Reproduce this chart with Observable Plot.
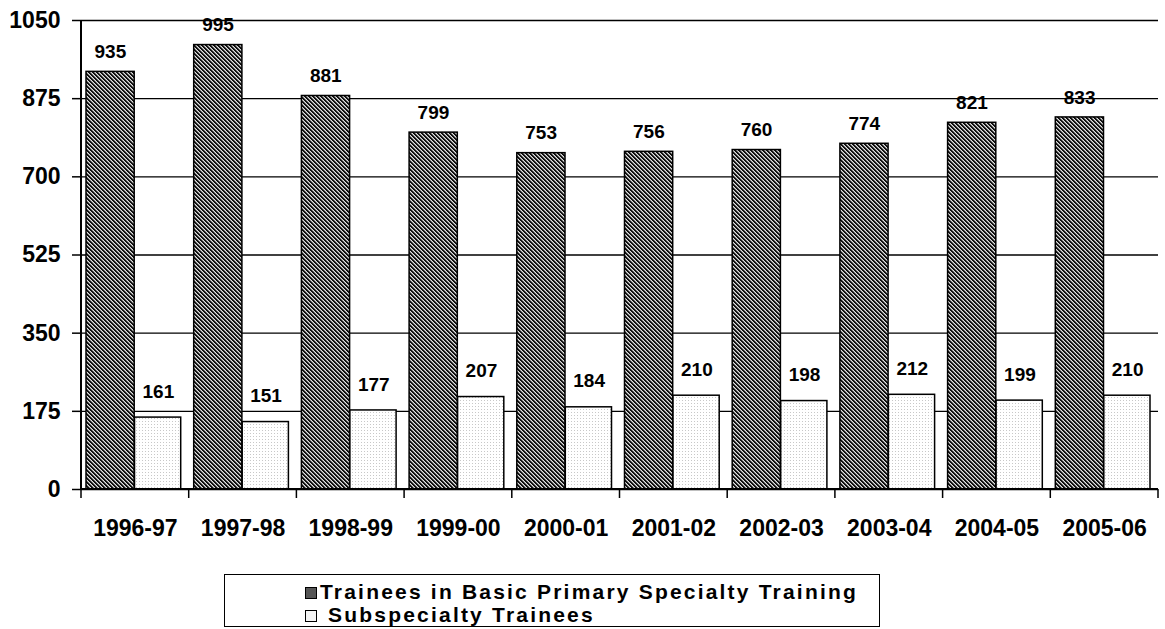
<!DOCTYPE html>
<html>
<head>
<meta charset="utf-8">
<script src="https://cdn.jsdelivr.net/npm/d3@7"></script>
<script src="https://cdn.jsdelivr.net/npm/@observablehq/plot@0.6"></script>
<style>
  body { margin: 0; background: #fff; font-family: "Liberation Sans", Arial, sans-serif; }
  #chart { position: absolute; left: 0; top: 0; }
  #legend {
    position: absolute; left: 224px; top: 574px; width: 656px; height: 53px;
    border: 1.5px solid #000; box-sizing: border-box;
    font-weight: bold; font-size: 21px; letter-spacing: 2.2px; line-height: 23px;
    padding: 5px 0 0 80px; color: #000; white-space: nowrap;
  }
  .sw { display: inline-block; width: 10px; height: 10px; border: 1px solid #000; margin-right: 3px; vertical-align: 0px; }
</style>
</head>
<body>
<div id="chart"></div>
<div id="legend">
  <div><span class="sw" id="sw1"></span>Trainees in Basic Primary Specialty Training</div>
  <div><span class="sw" id="sw2"></span>&nbsp;Subspecialty Trainees</div>
</div>
<script>
const years = ["1996-97","1997-98","1998-99","1999-00","2000-01","2001-02","2002-03","2003-04","2004-05","2005-06"];
const basic = [935, 995, 881, 799, 753, 756, 760, 774, 821, 833];
const subspecialty = [161, 151, 177, 207, 184, 210, 198, 212, 199, 210];
const yTicks = [0, 175, 350, 525, 700, 875, 1050];
const seriesNames = ["Trainees in Basic Primary Specialty Training", "Subspecialty Trainees"];

const rows = years.map((y, i) => ({year: y, basic: basic[i], sub: subspecialty[i]}));

const plot = Plot.plot({
  width: 1165,
  height: 560,
  marginLeft: 81,
  marginRight: 7,
  marginTop: 20,
  marginBottom: 71,
  style: {fontFamily: "'Liberation Sans', Arial, sans-serif", fontWeight: "bold", background: "#fff", overflow: "visible"},
  x: {domain: years, padding: 0, round: false, label: null},
  y: {domain: [0, 1050], label: null},
  marks: [
    Plot.ruleY(yTicks, {stroke: "#000", strokeWidth: 1.3}),
    Plot.barY(rows, {x: "year", y: "basic", fill: "url(#darkHatch)", stroke: "#000", strokeWidth: 1.5, insetLeft: 5, insetRight: 54.5}),
    Plot.barY(rows, {x: "year", y: "sub", fill: "url(#lightDots)", stroke: "#000", strokeWidth: 1.5, insetLeft: 53.5, insetRight: 8}),
    Plot.text(rows, {x: "year", y: "basic", text: d => String(d.basic), dx: -25, dy: -20, fontSize: 19, fontWeight: "bold", fill: "#000"}),
    Plot.text(rows, {x: "year", y: "sub", text: d => String(d.sub), dx: 23, dy: -26, fontSize: 19, fontWeight: "bold", fill: "#000"}),
    Plot.axisY({ticks: yTicks, tickSize: 9, tickPadding: 12, fontSize: 23, fontWeight: "bold", stroke: "#000", strokeWidth: 1.5, tickFormat: d => String(d)}),
    Plot.axisX({tickSize: 0, tickPadding: 30, fontSize: 23, fontWeight: "bold"})
  ]
});

// patterns
const svg = d3.select(plot.tagName === "svg" ? plot : plot.querySelector("svg"));
const defs = svg.insert("defs", ":first-child");
const dark = defs.append("pattern").attr("id", "darkHatch").attr("patternUnits", "userSpaceOnUse").attr("width", 4).attr("height", 4);
dark.append("rect").attr("width", 4).attr("height", 4).attr("fill", "#8a8a8a");
[[0,0],[1,1],[2,2],[3,3],[1,0],[2,1],[3,2],[0,3]].forEach(([x,y]) => dark.append("rect").attr("x", x).attr("y", y).attr("width", 1).attr("height", 1).attr("fill", "#111"));
[[3,0],[0,1],[1,2],[2,3]].forEach(([x,y]) => dark.append("rect").attr("x", x).attr("y", y).attr("width", 1).attr("height", 1).attr("fill", "#e0e0e0"));
const light = defs.append("pattern").attr("id", "lightDots").attr("patternUnits", "userSpaceOnUse").attr("width", 3).attr("height", 3);
light.append("rect").attr("width", 3).attr("height", 3).attr("fill", "#fff");
light.append("rect").attr("x", 1).attr("y", 1).attr("width", 1).attr("height", 1).attr("fill", "#c8c8c8");

// axis lines and boundary ticks from the library's scales
const xs = plot.scale("x");
const ys = plot.scale("y");
const y0 = ys.apply(0);
const yTop = ys.apply(1050);
const bounds = years.map(y => xs.apply(y)).concat([xs.apply(years[years.length - 1]) + xs.bandwidth]);
const g = svg.append("g").attr("stroke", "#000");
g.append("line").attr("x1", bounds[0]).attr("x2", bounds[0]).attr("y1", yTop).attr("y2", y0).attr("stroke-width", 2);
g.append("line").attr("x1", bounds[0]).attr("x2", bounds[bounds.length - 1]).attr("y1", y0).attr("y2", y0).attr("stroke-width", 2);
bounds.forEach(b => g.append("line").attr("x1", b).attr("x2", b).attr("y1", y0).attr("y2", y0 + 9).attr("stroke-width", 1.5));

document.getElementById("chart").appendChild(plot);
document.getElementById("sw1").style.background = "#555";
document.getElementById("sw2").style.background = "#f4f4f4";
</script>
</body>
</html>
